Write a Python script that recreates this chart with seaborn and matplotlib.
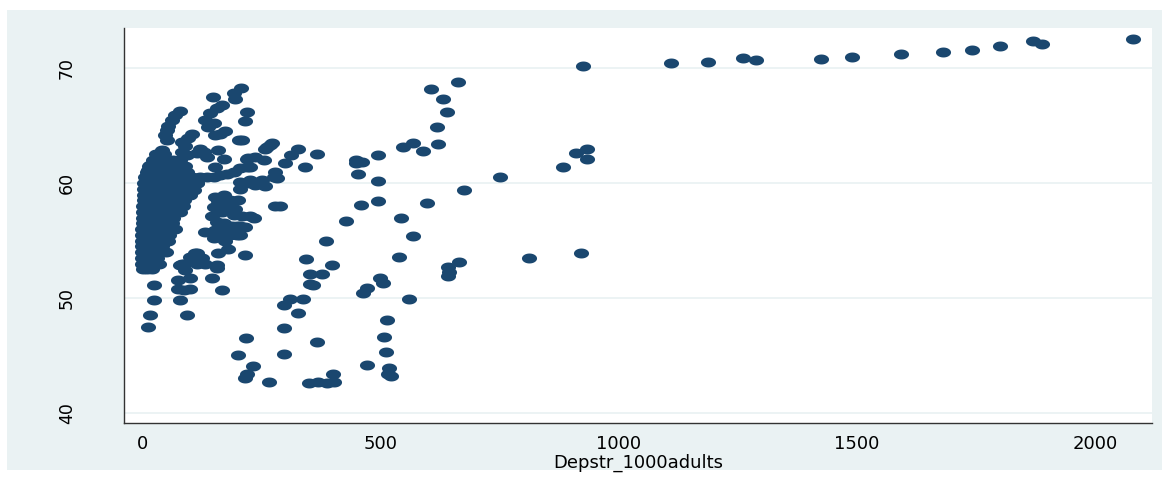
import numpy as np
import pandas as pd
import matplotlib
matplotlib.use("Agg")
import matplotlib.pyplot as plt
import matplotlib.path as mpath
from matplotlib.patches import Rectangle
import seaborn as sns

# --- values (x = Depstr_1000adults, y = unlabeled) ---
# right-hand tail
tail_x = [925, 1110, 1188, 1261, 1289, 1425, 1490, 1593, 1681, 1742, 1801, 1870, 1889, 2080]
tail_y = [70.2, 70.4, 70.55, 70.9, 70.67, 70.76, 71.0, 71.2, 71.4, 71.6, 71.9, 72.35, 72.1, 72.55]

# middle spread (roughly x 200..950)
mid_x = [664, 606, 632, 641, 619, 621, 590, 548, 569,
         751, 884, 911, 933, 933, 676, 599, 812, 921,
         665, 642, 644, 642,
         544, 569, 540, 561, 515, 507, 512, 472, 518, 516, 523,
         450, 462, 450, 495, 454, 495, 495, 460, 429, 385,
         344, 398, 353, 377, 358, 353, 499, 505, 472, 463,
         311, 337, 297, 327, 297, 368, 297,
         351, 370, 388, 400, 402,
         328, 313, 300, 343, 367, 290,
         218, 202, 232, 220, 216, 267,
         220, 216, 209, 272, 262, 269, 258,
         220, 237, 255, 220, 279, 276, 227, 248, 258, 206, 279, 234, 216, 206, 216,
         227, 206, 251, 237, 220, 206, 207, 192, 195, 204, 223]
mid_y = [68.8, 68.2, 67.3, 66.2, 64.9, 63.4, 62.8, 63.1, 63.5,
         60.5, 61.4, 62.6, 63.0, 62.1, 59.4, 58.3, 53.5, 53.9,
         53.1, 52.7, 52.3, 51.9,
         57.0, 55.4, 53.6, 49.9, 48.1, 46.6, 45.3, 44.2, 43.9, 43.4, 43.2,
         62.0, 61.8, 61.7, 62.4, 60.8, 60.2, 58.4, 58.1, 56.7, 55.0,
         53.4, 52.9, 52.1, 52.1, 51.1, 51.2, 51.7, 51.3, 50.9, 50.4,
         49.9, 49.9, 49.4, 48.7, 47.4, 46.2, 45.1,
         42.6, 42.7, 42.6, 43.4, 42.7,
         63.0, 62.4, 61.7, 61.4, 62.5, 58.0,
         46.5, 45.0, 44.1, 43.4, 43.0, 42.7,
         66.2, 65.4, 63.7, 63.5, 63.1, 63.3, 63.0,
         62.1, 62.3, 62.0, 61.4, 61.0, 60.5, 60.3, 60.0, 59.7, 59.5, 58.0, 57.0, 56.2, 55.5, 53.7,
         61.4, 61.3, 60.3, 59.8, 60.0, 60.1, 68.3, 67.8, 67.3, 63.7, 62.2]

# strands rising out of the main cluster (x 0..210)
strand_x = [148, 167, 157, 143, 80, 69, 62, 55, 52, 48, 52,
            132, 139, 150, 174, 164, 153, 104, 97,
            41, 34, 24, 17, 13, 10,
            83, 90, 83, 94, 80, 160, 122, 115, 129, 136, 171, 153,
            192, 178, 164, 150, 136, 283,
            122, 115, 108, 101, 153, 171, 185, 202,
            150, 160, 171, 185, 192,
            146, 157, 171, 188, 206,
            132, 150, 167, 185, 199,
            115, 101, 87, 80, 160, 157,
            24, 24, 17, 13, 94, 76, 80, 87, 101, 76, 101, 167, 146, 157, 90,
            83, 115, 132, 111, 125, 181, 174, 202, 153, 167, 181, 199,
            167, 181, 195, 209, 227, 160, 188]
strand_y = [67.5, 66.8, 66.5, 66.1, 66.3, 65.9, 65.5, 65.0, 64.6, 64.2, 63.7,
            65.5, 64.9, 65.2, 64.5, 64.3, 64.2, 64.3, 63.9,
            62.9, 62.4, 62.0, 61.6, 61.1, 60.7,
            63.6, 63.2, 62.7, 62.4, 62.0, 62.9, 63.0, 62.6, 62.7, 62.3, 62.1, 61.4,
            61.0, 60.8, 60.7, 60.5, 60.5, 60.4,
            60.5, 60.0, 59.4, 59.0, 58.8, 59.0, 58.5, 58.5,
            57.9, 57.5, 57.8, 57.7, 57.2,
            57.1, 56.6, 56.5, 56.3, 56.3,
            55.7, 55.2, 55.3, 55.5, 55.5,
            53.9, 53.6, 53.0, 52.9, 53.9, 52.9,
            51.1, 49.8, 48.5, 47.5, 48.5, 50.8, 49.8, 50.7, 50.8, 51.6, 51.7, 50.7, 51.7, 52.6, 52.4,
            53.0, 53.0, 53.0, 53.9, 53.5, 54.3, 55.0, 55.6, 55.9, 56.1, 56.2, 56.3,
            57.5, 57.9, 57.7, 57.1, 57.1, 58.4, 58.4]

# dense core near x = 0
core_x = [30, 45,
          22, 35, 50, 65,
          15, 28, 42, 58, 75, 90,
          10, 22, 35, 50, 65, 80, 95,
          6, 18, 30, 45, 60, 75, 90, 105,
          5, 15, 28, 40, 55, 70, 85, 100, 115,
          4, 14, 25, 38, 52, 66, 80, 95,
          3, 12, 24, 36, 50, 64, 78, 92,
          3, 12, 22, 34, 46, 60, 75, 88,
          2, 10, 20, 32, 44, 58, 72, 85,
          2, 10, 20, 30, 42, 55, 68, 80,
          1, 9, 18, 28, 40, 52, 65,
          1, 8, 17, 27, 38, 50, 62,
          0, 8, 16, 26, 36, 48, 58, 70,
          0, 7, 15, 25, 35, 46, 56,
          0, 7, 15, 24, 34, 44, 55,
          0, 6, 14, 22, 32, 42,
          0, 6, 14, 22, 30, 40, 50,
          0, 6, 13, 22, 32,
          0, 6, 14, 24, 36,
          2, 10, 20]
core_y = [62.5, 62.5,
          62.0, 62.0, 62.0, 62.0,
          61.5, 61.5, 61.5, 61.5, 61.5, 61.5,
          61.0, 61.0, 61.0, 61.0, 61.0, 61.0, 61.0,
          60.5, 60.5, 60.5, 60.5, 60.5, 60.5, 60.5, 60.5,
          60.0, 60.0, 60.0, 60.0, 60.0, 60.0, 60.0, 60.0, 60.0,
          59.5, 59.5, 59.5, 59.5, 59.5, 59.5, 59.5, 59.5,
          59.0, 59.0, 59.0, 59.0, 59.0, 59.0, 59.0, 59.0,
          58.5, 58.5, 58.5, 58.5, 58.5, 58.5, 58.5, 58.5,
          58.0, 58.0, 58.0, 58.0, 58.0, 58.0, 58.0, 58.0,
          57.5, 57.5, 57.5, 57.5, 57.5, 57.5, 57.5, 57.5,
          57.0, 57.0, 57.0, 57.0, 57.0, 57.0, 57.0,
          56.5, 56.5, 56.5, 56.5, 56.5, 56.5, 56.5,
          56.0, 56.0, 56.0, 56.0, 56.0, 56.0, 56.0, 56.0,
          55.5, 55.5, 55.5, 55.5, 55.5, 55.5, 55.5,
          55.0, 55.0, 55.0, 55.0, 55.0, 55.0, 55.0,
          54.5, 54.5, 54.5, 54.5, 54.5, 54.5,
          54.0, 54.0, 54.0, 54.0, 54.0, 54.0, 54.0,
          53.5, 53.5, 53.5, 53.5, 53.5,
          53.0, 53.0, 53.0, 53.0, 53.0,
          52.5, 52.5, 52.5]

x_ticks = [0, 500, 1000, 1500, 2000]
y_ticks = [40, 50, 60, 70]

df = pd.DataFrame({
    "Depstr_1000adults": tail_x + mid_x + strand_x + core_x,
    "y": tail_y + mid_y + strand_y + core_y,
})

NAVY = "#1a476f"
BG = "#eaf2f3"
AXIS = "#333333"

sns.set_style("white")
plt.rcParams["font.family"] = ["DejaVu Sans"]
plt.rcParams["text.color"] = "black"

fig = plt.figure(figsize=(11.71, 4.79), dpi=100)
fig.patch.set_facecolor("white")
# Stata-like outer panel
fig.patches.append(Rectangle((7 / 1171, 9 / 479), 1155 / 1171, 460 / 479,
                             transform=fig.transFigure, facecolor=BG,
                             edgecolor="none", zorder=-1))

ax = fig.add_axes([124 / 1171, 1 - 423 / 479, 1028 / 1171, 395 / 479])
ax.set_facecolor("white")

# horizontally stretched dot, like the reference
theta = np.linspace(0, 2 * np.pi, 48)
ellipse = mpath.Path(np.column_stack([np.cos(theta), 0.66 * np.sin(theta)]), closed=True)

sns.scatterplot(data=df, x="Depstr_1000adults", y="y", marker=ellipse, s=118,
                color=NAVY, linewidth=0, ax=ax, zorder=3)

ax.set_xlim(-38, 2120)
ax.set_ylim(39.13, 73.48)
ax.set_xticks(x_ticks)
ax.set_yticks(y_ticks)
ax.grid(axis="y", color=BG, linewidth=1.3, zorder=0)
ax.set_axisbelow(True)

for side in ["top", "right"]:
    ax.spines[side].set_visible(False)
for side in ["left", "bottom"]:
    ax.spines[side].set_color(AXIS)
    ax.spines[side].set_linewidth(1.0)

ax.tick_params(axis="x", direction="out", length=4.5, width=0.9, color=AXIS,
               labelsize=13, labelcolor="black", pad=4)
ax.tick_params(axis="y", direction="out", length=8.6, width=0.9, color=AXIS,
               labelsize=12.5, labelcolor="black", pad=26)
for lbl in ax.get_yticklabels():
    lbl.set_rotation(90)
    lbl.set_va("center")

ax.set_xlabel("Depstr_1000adults", fontsize=13, color="black", labelpad=1)
ax.set_ylabel("")

fig.savefig("out.png", dpi=100, facecolor=fig.get_facecolor())
